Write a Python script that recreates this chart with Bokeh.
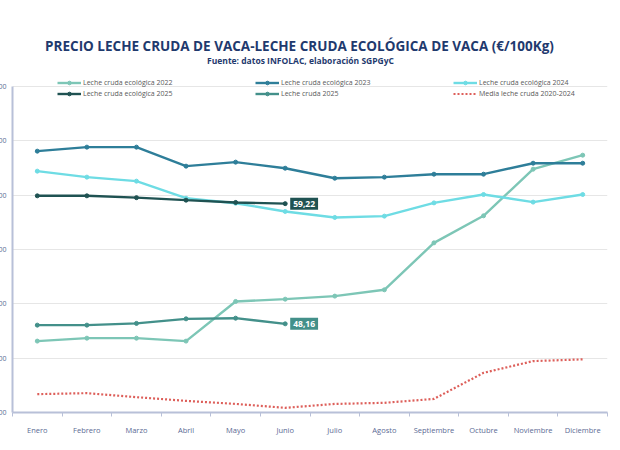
from bokeh.plotting import figure
from bokeh.models import Range1d, FixedTicker, Legend, LegendItem, Label
from bokeh.embed import file_html
from bokeh.resources import INLINE

months = ["Enero", "Febrero", "Marzo", "Abril", "Mayo", "Junio", "Julio",
          "Agosto", "Septiembre", "Octubre", "Noviembre", "Diciembre"]
eco_2022 = [46.57, 46.84, 46.84, 46.57, 50.22, 50.43, 50.71, 51.29, 55.61, 58.10, 62.39, 63.68]
eco_2023 = [64.05, 64.42, 64.42, 62.67, 63.04, 62.48, 61.56, 61.66, 61.93, 61.93, 62.94, 62.94]
eco_2024 = [62.21, 61.66, 61.29, 59.72, 59.26, 58.50, 57.95, 58.07, 59.29, 60.06, 59.36, 60.06]
eco_2025 = [59.94, 59.94, 59.77, 59.54, 59.33, 59.22]
cruda_2025 = [48.04, 48.04, 48.20, 48.62, 48.68, 48.16]
media_2020_2024 = [41.69, 41.78, 41.41, 41.07, 40.79, 40.43, 40.79, 40.89, 41.25, 43.65, 44.73, 44.89]
y_ticks = [40, 45, 50, 55, 60, 65, 70]

FONT = "Open Sans"
AXIS_TXT = "#5B6A94"

SHIFT = 18          # part of the figure pushed off the left edge (the reference is cropped)
BL, BR, BB = 30, 5, 30
FRAME_H = 412       # frame spans page y 0..412; value 70 sits at y=86
Y0, Y1 = y_ticks[0], y_ticks[-1]
y_top = Y0 + (Y1 - Y0) * FRAME_H / (FRAME_H - 86)

p = figure(width=612 + SHIFT, height=FRAME_H + BB, title=None, output_backend="svg",
           toolbar_location=None, x_range=Range1d(0, 12), y_range=Range1d(Y0, y_top),
           min_border_left=BL, min_border_right=BR, min_border_top=0, min_border_bottom=BB)
p.margin = (0, 0, 0, -SHIFT)
p.outline_line_color = None
p.background_fill_color = "white"
p.border_fill_color = "white"

xs_full = [i + 0.5 for i in range(len(months))]

# axes
p.xaxis.ticker = FixedTicker(ticks=xs_full, minor_ticks=list(range(len(months) + 1)))
p.xaxis.major_label_overrides = {x: m for x, m in zip(xs_full, months)}
p.xaxis.major_tick_out = 0
p.xaxis.major_tick_in = 0
p.xaxis.minor_tick_out = 4
p.xaxis.minor_tick_in = 0
p.xaxis.minor_tick_line_color = "#B8C0D8"
p.xaxis.axis_line_color = "#B8C0D8"
p.xaxis.axis_line_width = 2
p.xaxis.major_label_text_font = FONT
p.xaxis.major_label_text_font_size = "7.5px"
p.xaxis.major_label_text_color = AXIS_TXT
p.xaxis.major_label_standoff = 8

p.yaxis.ticker = FixedTicker(ticks=y_ticks)
p.yaxis.bounds = (Y0, Y1)
p.yaxis.major_label_overrides = {t: f"{t:.2f}".replace(".", ",") for t in y_ticks}
p.yaxis.major_tick_out = 0
p.yaxis.major_tick_in = 0
p.yaxis.minor_tick_out = 0
p.yaxis.minor_tick_in = 0
p.yaxis.axis_line_color = "#B8C0D8"
p.yaxis.axis_line_width = 2
p.yaxis.major_label_text_font = FONT
p.yaxis.major_label_text_font_size = "7px"
p.yaxis.major_label_text_color = AXIS_TXT
p.yaxis.major_label_standoff = 6

p.xgrid.grid_line_color = None
p.ygrid.grid_line_color = "#E6E6E6"
p.ygrid.grid_line_width = 1
p.ygrid.ticker = FixedTicker(ticks=y_ticks)

series = [
    ("Leche cruda ecológica 2022", eco_2022, "#7DC6B6", None),
    ("Leche cruda ecológica 2023", eco_2023, "#2E7E99", None),
    ("Leche cruda ecológica 2024", eco_2024, "#6EDCE4", None),
    ("Leche cruda ecológica 2025", eco_2025, "#1F5252", None),
    ("Leche cruda 2025", cruda_2025, "#43908A", None),
    ("Media leche cruda 2020-2024", media_2020_2024, "#DD5F5A", "dotted"),
]

items = {}
for name, vals, color, dash in series:
    xs = xs_full[:len(vals)]
    if dash:
        r = p.line(xs, vals, line_color=color, line_width=2.2, line_dash="2 2")
        items[name] = LegendItem(label=name, renderers=[r])
    else:
        r = p.line(xs, vals, line_color=color, line_width=2.4)
        s = p.scatter(xs, vals, size=4, fill_color=color, line_color=color)
        items[name] = LegendItem(label=name, renderers=[r, s])

# legend (column-major for 3 columns x 2 rows)
order = ["Leche cruda ecológica 2022", "Leche cruda ecológica 2025",
         "Leche cruda ecológica 2023", "Leche cruda 2025",
         "Leche cruda ecológica 2024", "Media leche cruda 2020-2024"]
legend = Legend(items=[items[n] for n in order], ncols=3, location=(45, 314),
                orientation="vertical",
                glyph_width=24, glyph_height=9, label_height=9, label_width=170,
                label_standoff=2, spacing=2, padding=2, margin=0,
                label_text_font=FONT, label_text_font_size="7px",
                label_text_color="#595959",
                background_fill_alpha=0, border_line_color=None)
p.add_layout(legend, "center")

# end-of-series value boxes
for vals, color in [(eco_2025, "#1F5252"), (cruda_2025, "#43908A")]:
    p.add_layout(Label(x=xs_full[len(vals) - 1], y=vals[-1], x_offset=5,
                       text=f"{vals[-1]:.2f}".replace(".", ","),
                       text_font=FONT, text_font_size="8.5px", text_font_style="bold",
                       text_color="white", text_baseline="middle", text_align="left",
                       background_fill_color=color, padding=3))

# titles
p.add_layout(Label(x=287, y=367, x_units="screen", y_units="screen",
                   text="PRECIO LECHE CRUDA DE VACA-LECHE CRUDA ECOLÓGICA DE VACA (€/100Kg)",
                   text_font=FONT, text_font_size="13.5px", text_font_style="bold",
                   text_color="#1F3A6E", text_align="center", text_baseline="middle"))
p.add_layout(Label(x=288, y=352, x_units="screen", y_units="screen",
                   text="Fuente: datos INFOLAC, elaboración SGPGyC",
                   text_font=FONT, text_font_size="8.5px", text_font_style="bold",
                   text_color="#1F3A6E", text_align="center", text_baseline="middle"))

open("out.html", "w").write(file_html(p, INLINE))
